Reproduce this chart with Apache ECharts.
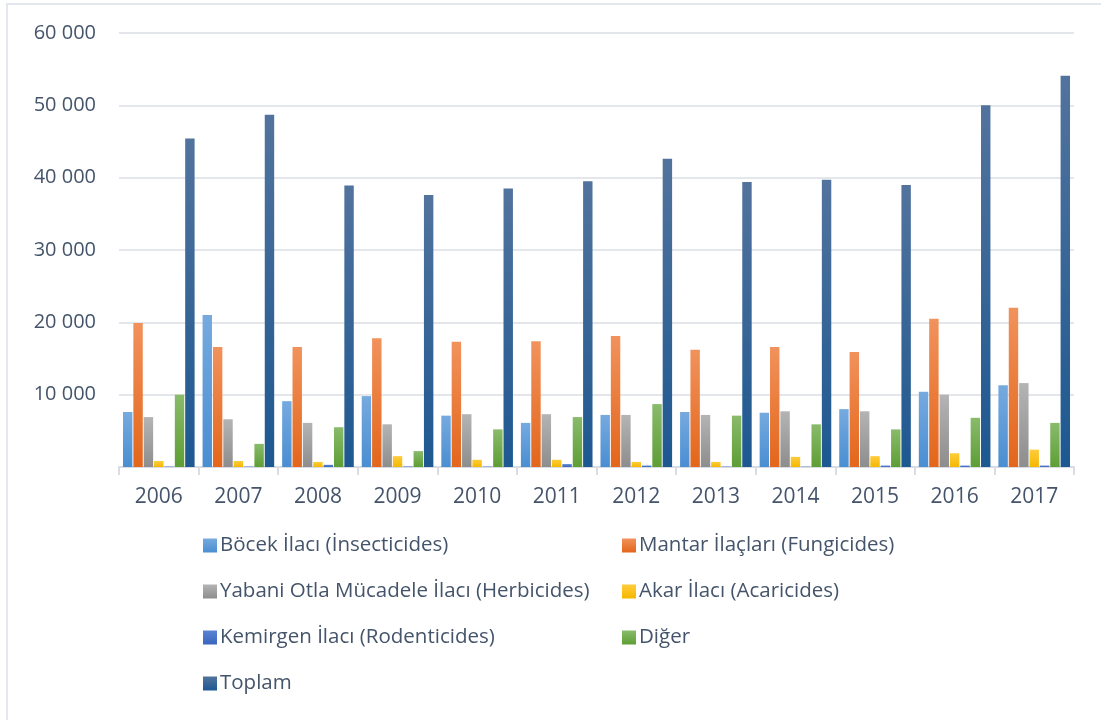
<!DOCTYPE html>
<html>
<head>
<meta charset="utf-8">
<script src="https://cdn.jsdelivr.net/npm/echarts@6/dist/echarts.min.js"></script>
<style>
  html, body { margin: 0; padding: 0; background: #fff; }
  #chart { width: 1101px; height: 720px; }
</style>
</head>
<body>
<div id="chart"></div>
<script>
const years = ['2006', '2007', '2008', '2009', '2010', '2011', '2012', '2013', '2014', '2015', '2016', '2017'];

const insecticides = [7600, 21000, 9100, 9800, 7100, 6100, 7200, 7600, 7500, 8000, 10400, 11300];
const fungicides = [19900, 16600, 16600, 17800, 17300, 17400, 18100, 16200, 16600, 15900, 20500, 22000];
const herbicides = [6900, 6600, 6100, 5900, 7300, 7300, 7200, 7200, 7700, 7700, 10000, 11600];
const acaricides = [830, 830, 700, 1500, 1000, 1000, 700, 700, 1400, 1500, 1900, 2400];
const rodenticides = [60, 60, 300, 80, 60, 400, 200, 60, 50, 200, 200, 200];
const other = [10000, 3200, 5500, 2200, 5200, 6900, 8700, 7100, 5900, 5200, 6800, 6100];
const total = [45400, 48700, 38900, 37600, 38500, 39500, 42600, 39400, 39700, 39000, 50000, 54100];

const seriesNames = [
  'Böcek İlacı (İnsecticides)',
  'Mantar İlaçları (Fungicides)',
  'Yabani Otla Mücadele İlacı (Herbicides)',
  'Akar İlacı (Acaricides)',
  'Kemirgen İlacı (Rodenticides)',
  'Diğer',
  'Toplam'
];
const seriesData = [insecticides, fungicides, herbicides, acaricides, rodenticides, other, total];
// top / bottom gradient stops
const seriesColors = [
  ['#76aadf', '#4a8ed2'],
  ['#f1925c', '#e3661b'],
  ['#b4b4b4', '#8d8d8d'],
  ['#ffcc3c', '#f4b800'],
  ['#5a84d2', '#3a65be'],
  ['#89bb6b', '#5e9e35'],
  ['#52739d', '#1d5891']
];

const textColor = '#44546a';
const font = '"Open Sans", "Noto Sans", sans-serif';

const chart = echarts.init(document.getElementById('chart'));

const legendPos = [
  [198, 530], [617, 530],
  [198, 576], [617, 576],
  [198, 622], [617, 622],
  [198, 668]
];

const option = {
  animation: false,
  backgroundColor: '#fff',
  graphic: [{
    type: 'rect',
    shape: { x: 7, y: 4, width: 1200, height: 800 },
    style: { fill: 'none', stroke: '#e4e8ee', lineWidth: 2 },
    silent: true
  }],
  grid: { left: 119, right: 27, top: 33, bottom: 253 },
  legend: seriesNames.map((n, i) => ({
    data: [n],
    left: legendPos[i][0],
    top: legendPos[i][1],
    itemWidth: 14,
    itemHeight: 14,
    itemGap: 6,
    icon: 'rect',
    textStyle: { color: textColor, fontSize: 20.5, fontFamily: font, padding: [0, 0, 0, -2] }
  })),
  xAxis: {
    type: 'category',
    data: years,
    axisLine: { lineStyle: { color: '#d9dde3', width: 2 } },
    axisTick: { show: true, length: 8, lineStyle: { color: '#d9dde3', width: 2 } },
    axisLabel: { color: textColor, fontSize: 21, fontFamily: font, margin: 20 }
  },
  yAxis: {
    type: 'value',
    min: 0,
    max: 60000,
    interval: 10000,
    axisLine: { show: false },
    axisTick: { show: false },
    splitLine: { lineStyle: { color: '#e3e6ea', width: 2 } },
    axisLabel: {
      color: textColor,
      fontSize: 20,
      fontFamily: font,
      margin: 23,
      formatter: v => v === 0 ? '' : String(v).replace(/\B(?=(\d{3})+(?!\d))/g, ' ')
    }
  },
  series: seriesNames.map((n, i) => ({
    name: n,
    type: 'bar',
    data: seriesData[i],
    barGap: '10%',
    barCategoryGap: '10%',
    itemStyle: {
      color: new echarts.graphic.LinearGradient(0, 0, 0, 1, [
        { offset: 0, color: seriesColors[i][0] },
        { offset: 1, color: seriesColors[i][1] }
      ])
    }
  }))
};

chart.setOption(option);
</script>
</body>
</html>
